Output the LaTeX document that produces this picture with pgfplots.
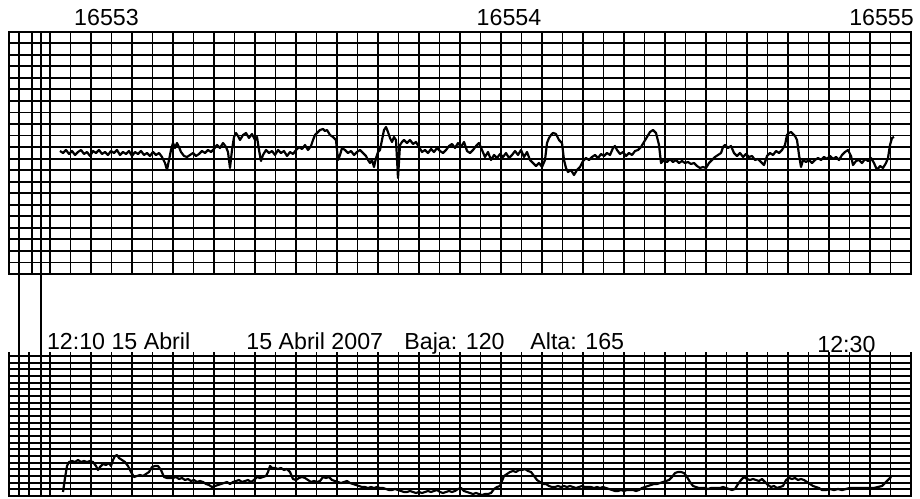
\documentclass[border=0pt]{standalone}
\usepackage{pgfplots}
\pgfplotsset{compat=1.18}
\usepackage{fontspec}
\setmainfont{Liberation Sans}

% 1 px of the reference = 0.5pt; x in px, y in px rows (top down)
\pgfplotsset{
  strip/.style={
    scale only axis, width=450.85pt,
    xmin=9.3, xmax=911, y dir=reverse,
    axis line style={line width=0.9pt},
    xtick=\empty, ymajorgrids=true,
    major grid style={black, line width=0.9pt},
    yticklabel=\empty, ytick style={draw=none},
    clip=false, unbounded coords=jump,
  },
  rule/.style={black, line width=0.9pt, line join=miter},
}
\tikzset{lbl/.style={font=\fontsize{11.6}{13}\selectfont, inner sep=0pt}}

\begin{document}
\begin{tikzpicture}
\useasboundingbox (0,0) rectangle (460pt,249pt);

% fetal heart rate
\begin{axis}[strip, anchor=south west, at={(4.65pt,112pt)},
    height=121.15pt, ymin=31.7, ymax=274,
    ytick={31.7,43.24,54.78,66.31,77.85,89.39,100.93,112.47,124.0,135.54,147.08,158.62,170.16,181.7,193.23,204.77,216.31,227.85,239.39,250.93,262.46,274}]
% vertical chart rulings
\addplot[rule] coordinates {
(19,31.7)(19,274)(31.7,274)(31.7,31.7)(40.7,31.7)(40.7,274)(50,274)(50,31.7)
(70.5,31.7)(70.5,274)(91,274)(91,31.7)(111.5,31.7)(111.5,274)(132,274)(132,31.7)
(152.5,31.7)(152.5,274)(173,274)(173,31.7)(193.5,31.7)(193.5,274)(214,274)(214,31.7)
(234.5,31.7)(234.5,274)(255,274)(255,31.7)(275.5,31.7)(275.5,274)(296,274)(296,31.7)
(316.5,31.7)(316.5,274)(337,274)(337,31.7)(357.5,31.7)(357.5,274)(378,274)(378,31.7)
(398.5,31.7)(398.5,274)(419,274)(419,31.7)(439.5,31.7)(439.5,274)(460,274)(460,31.7)
(480.5,31.7)(480.5,274)(501,274)(501,31.7)(521.5,31.7)(521.5,274)(542,274)(542,31.7)
(562.5,31.7)(562.5,274)(583,274)(583,31.7)(603.5,31.7)(603.5,274)(624,274)(624,31.7)
(644.5,31.7)(644.5,274)(665,274)(665,31.7)(685.5,31.7)(685.5,274)(706,274)(706,31.7)
(726.5,31.7)(726.5,274)(747,274)(747,31.7)(767.5,31.7)(767.5,274)(788,274)(788,31.7)
(808.5,31.7)(808.5,274)(829,274)(829,31.7)(849.5,31.7)(849.5,274)(870,274)(870,31.7)
(890.5,31.7)(890.5,274)
};
\addplot[rule] coordinates {(19,274)(19,356)(19,nan)(40.7,274)(40.7,356)};
\addplot[black, line width=1.1pt, line join=round] coordinates {
(60,151)(63,153)(66,150)(69,154)(72,151)(75,155)(78,152)(81,150)(84,154)(87,152)(90,156)(93,151)(96,153)(99,150)(102,154)(105,152)(108,155)(111,151)(114,153)(117,150)(120,155)(123,152)(126,154)(129,151)(132,156)(135,152)(138,154)(141,151)(144,155)(147,153)(150,156)(153,152)(156,155)(159,153)(162,157)(165,163)(167,170)(169,160)(171,150)(173,143)(175,148)(177,143)(179,147)(181,152)(184,156)(187,157)(190,155)(193,153)(196,156)(199,154)(202,151)(205,153)(208,150)(211,152)(214,149)(217,145)(220,148)(223,143)(226,147)(228,152)(230,168)(232,150)(234,137)(236,133)(238,136)(240,140)(243,135)(246,133)(249,138)(252,134)(255,140)(257,137)(259,150)(261,161)(263,155)(266,150)(269,153)(272,151)(275,155)(278,150)(281,153)(284,151)(287,156)(290,152)(293,154)(296,150)(299,147)(302,149)(305,145)(308,150)(311,146)(313,140)(315,135)(317,133)(320,130)(323,129)(325,131)(327,130)(330,135)(333,137)(336,140)(338,160)(340,155)(342,148)(345,150)(348,153)(351,151)(354,155)(357,152)(360,150)(363,153)(366,156)(368,160)(370,163)(372,160)(374,167)(376,158)(378,152)(380,150)(382,140)(384,130)(386,127)(388,132)(390,138)(392,142)(394,137)(396,140)(398,178)(400,145)(402,142)(404,140)(407,143)(410,140)(413,144)(416,142)(419,147)(422,152)(425,150)(428,153)(431,149)(434,152)(437,148)(440,151)(443,153)(446,150)(449,146)(452,144)(455,148)(458,143)(461,147)(464,142)(467,151)(470,153)(473,150)(476,146)(479,143)(482,150)(485,157)(488,152)(491,160)(494,155)(497,158)(500,154)(503,157)(506,153)(509,158)(512,155)(515,151)(518,155)(521,150)(524,157)(527,152)(530,160)(533,163)(536,166)(539,163)(542,167)(545,160)(547,143)(549,138)(551,135)(553,133)(556,134)(559,140)(562,143)(564,160)(566,168)(568,172)(571,170)(574,175)(577,170)(580,167)(583,161)(586,158)(589,160)(592,157)(595,155)(598,158)(601,154)(604,156)(607,153)(610,155)(613,148)(615,146)(617,150)(620,154)(623,152)(626,156)(629,153)(632,155)(635,151)(638,150)(641,147)(644,142)(647,137)(650,132)(653,130)(656,133)(659,145)(661,163)(664,160)(667,162)(670,159)(673,162)(676,160)(679,163)(682,161)(685,163)(688,162)(691,164)(694,163)(697,166)(700,168)(703,167)(706,168)(709,163)(712,160)(715,157)(718,155)(721,153)(723,147)(725,145)(728,148)(731,146)(734,153)(737,156)(740,153)(743,157)(746,154)(749,157)(752,156)(755,160)(758,159)(761,162)(764,165)(767,156)(770,153)(773,155)(776,151)(779,153)(782,150)(785,145)(787,135)(789,133)(791,132)(793,134)(795,136)(797,140)(799,155)(801,167)(803,160)(806,162)(809,160)(812,163)(815,160)(818,158)(821,160)(824,157)(827,159)(830,156)(833,159)(836,157)(839,160)(842,155)(845,152)(848,150)(851,156)(853,165)(856,161)(859,160)(862,163)(865,159)(868,161)(871,158)(874,163)(877,170)(880,166)(883,168)(886,163)(888,158)(890,145)(892,138)(894,137)
};
\node[lbl, anchor=base] at (axis cs:106.5,26) {16553};
\node[lbl, anchor=base] at (axis cs:509,26) {16554};
\node[lbl, anchor=base] at (axis cs:881.5,26) {16555};
\end{axis}

% uterine activity
\begin{axis}[strip, anchor=south west, at={(4.65pt,1pt)},
    height=70pt, ymin=356, ymax=496,
    ytick={356,362.67,369.33,376,382.67,389.33,396,402.67,409.33,416,422.67,429.33,436,442.67,449.33,456,462.67,469.33,476,482.67,489.33,496}]
% vertical chart rulings, each standing a little above the top edge
\addplot[rule, line cap=rect] coordinates {
(9.3,352.5)(9.3,356)(9.3,nan)(911,352.5)(911,356)(911,nan)
(19,352.5)(19,496)(19,nan)(29.3,352.5)(29.3,496)(29.3,nan)(40.7,352.5)(40.7,496)(40.7,nan)(50,352.5)(50,496)(50,nan)
(70.5,352.5)(70.5,496)(70.5,nan)(91,352.5)(91,496)(91,nan)(111.5,352.5)(111.5,496)(111.5,nan)(132,352.5)(132,496)(132,nan)
(152.5,352.5)(152.5,496)(152.5,nan)(173,352.5)(173,496)(173,nan)(193.5,352.5)(193.5,496)(193.5,nan)(214,352.5)(214,496)(214,nan)
(234.5,352.5)(234.5,496)(234.5,nan)(255,352.5)(255,496)(255,nan)(275.5,352.5)(275.5,496)(275.5,nan)(296,352.5)(296,496)(296,nan)
(316.5,352.5)(316.5,496)(316.5,nan)(337,352.5)(337,496)(337,nan)(357.5,352.5)(357.5,496)(357.5,nan)(378,352.5)(378,496)(378,nan)
(398.5,352.5)(398.5,496)(398.5,nan)(419,352.5)(419,496)(419,nan)(439.5,352.5)(439.5,496)(439.5,nan)(460,352.5)(460,496)(460,nan)
(480.5,352.5)(480.5,496)(480.5,nan)(501,352.5)(501,496)(501,nan)(521.5,352.5)(521.5,496)(521.5,nan)(542,352.5)(542,496)(542,nan)
(562.5,352.5)(562.5,496)(562.5,nan)(583,352.5)(583,496)(583,nan)(603.5,352.5)(603.5,496)(603.5,nan)(624,352.5)(624,496)(624,nan)
(644.5,352.5)(644.5,496)(644.5,nan)(665,352.5)(665,496)(665,nan)(685.5,352.5)(685.5,496)(685.5,nan)(706,352.5)(706,496)(706,nan)
(726.5,352.5)(726.5,496)(726.5,nan)(747,352.5)(747,496)(747,nan)(767.5,352.5)(767.5,496)(767.5,nan)(788,352.5)(788,496)(788,nan)
(808.5,352.5)(808.5,496)(808.5,nan)(829,352.5)(829,496)(829,nan)(849.5,352.5)(849.5,496)(849.5,nan)(870,352.5)(870,496)(870,nan)
(890.5,352.5)(890.5,496)
};
\addplot[black, line width=1.1pt, line join=round] coordinates {
(63,492)(65,478)(67,466)(69,462)(72,461)(75,462)(78,460)(81,462)(84,461)(87,462)(90,461)(93,462)(96,466)(98,470)(100,467)(103,464)(106,465)(109,463)(111,466)(113,460)(115,456)(117,455)(119,458)(122,460)(125,462)(128,466)(131,472)(134,477)(137,476)(140,475)(143,476)(146,474)(149,472)(152,467)(155,466)(158,466)(161,470)(164,477)(167,478)(170,478)(173,478)(176,477)(179,479)(182,478)(185,480)(188,479)(191,481)(194,480)(197,482)(200,481)(203,482)(206,484)(209,485)(212,487)(215,486)(218,485)(221,484)(224,483)(227,482)(230,484)(233,482)(236,481)(239,480)(242,482)(245,481)(248,480)(251,482)(254,480)(257,477)(260,478)(263,477)(266,476)(268,472)(270,466)(272,468)(275,468)(278,469)(281,468)(284,470)(287,469)(290,472)(293,479)(296,480)(299,478)(302,477)(305,478)(308,480)(311,482)(314,481)(317,482)(320,481)(323,477)(326,478)(329,477)(332,480)(335,481)(338,482)(341,483)(344,482)(347,481)(350,483)(353,484)(356,485)(359,486)(362,487)(365,487)(368,488)(371,487)(374,488)(377,487)(380,488)(383,488)(386,489)(389,490)(392,490)(395,489)(398,490)(401,491)(404,492)(407,492)(410,491)(413,492)(416,493)(419,492)(422,493)(425,492)(428,491)(431,492)(434,491)(437,490)(440,492)(443,493)(446,492)(449,491)(452,492)(455,491)(458,489)(461,488)(464,491)(467,492)(470,493)(473,494)(476,493)(479,494)(482,495)(485,494)(488,494)(491,493)(494,489)(497,487)(500,486)(502,481)(504,476)(507,474)(510,472)(513,471)(516,472)(519,470)(522,470)(525,469)(528,471)(531,472)(534,476)(537,480)(540,482)(543,484)(546,484)(549,486)(552,487)(555,487)(558,486)(561,487)(564,486)(567,487)(570,486)(573,487)(576,488)(579,487)(582,486)(585,487)(588,487)(591,487)(594,488)(597,487)(600,488)(603,487)(606,488)(609,489)(612,490)(615,491)(618,491)(621,490)(624,491)(627,490)(630,490)(633,490)(636,491)(639,490)(642,488)(645,487)(648,486)(651,485)(654,484)(657,484)(660,483)(663,482)(666,481)(669,480)(672,477)(675,473)(678,472)(681,472)(684,473)(687,477)(690,482)(693,486)(696,487)(699,488)(702,488)(705,488)(708,489)(711,488)(714,488)(717,488)(720,488)(723,487)(726,488)(729,489)(732,490)(735,489)(738,484)(741,480)(744,477)(747,479)(750,480)(753,479)(756,480)(759,481)(762,479)(765,482)(768,485)(771,487)(774,486)(777,488)(780,487)(783,486)(786,480)(789,478)(792,479)(795,478)(798,480)(801,479)(804,480)(807,482)(810,484)(813,486)(816,487)(819,488)(822,490)(826,490)(830,489)(834,490)(838,489)(842,490)(846,489)(850,488)(854,488)(858,488)(862,488)(866,488)(870,488)(874,488)(878,487)(882,486)(885,483)(888,480)(891,477)
};
\node[lbl, anchor=base west] at (axis cs:46.7,349.3) {12:10 15 Abril};
\node[lbl, anchor=base west] at (axis cs:246,349.3) {15 Abril 2007};
\node[lbl, anchor=base west] at (axis cs:404,349.3) {Baja: 120};
\node[lbl, anchor=base west] at (axis cs:530,349.3) {Alta: 165};
\node[lbl, anchor=base west] at (axis cs:817,352.3) {12:30};
\end{axis}
\end{tikzpicture}
\end{document}
